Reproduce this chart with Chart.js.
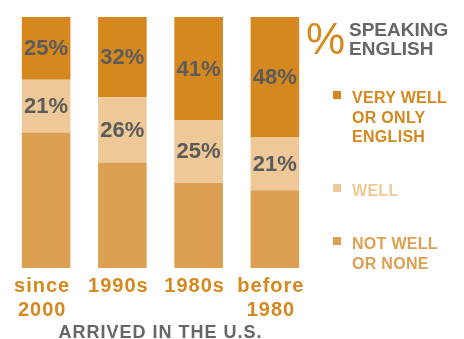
<!DOCTYPE html>
<html><head><meta charset="utf-8">
<script src="https://cdn.jsdelivr.net/npm/chart.js@4/dist/chart.umd.min.js"></script>
<style>
html,body{margin:0;padding:0;background:#fff;}
#wrap{position:relative;width:464px;height:339px;font-family:"Liberation Sans",Arial,sans-serif;overflow:hidden;}
#wrap canvas{position:absolute;left:0;top:0;}
.abs{position:absolute;white-space:nowrap;}
#pct{left:306px;top:17px;font-size:44px;line-height:44px;color:#D4881E;font-weight:normal;}
#ltitle{left:349px;top:19.5px;font-size:19px;line-height:19px;font-weight:bold;color:#666;}
.item{position:absolute;left:333px;}
.sw{position:absolute;left:0;width:8px;height:8px;}
.txt{position:absolute;left:19px;top:0;font-size:16px;line-height:19.5px;font-weight:bold;letter-spacing:0.3px;white-space:nowrap;}
</style></head><body>
<div id="wrap"><canvas id="c" width="464" height="339"></canvas>
<div id="pct" class="abs">%</div>
<div id="ltitle" class="abs">SPEAKING<br>ENGLISH</div>
</div>
<script>
const categories = [["since","2000"], "1990s", "1980s", ["before","1980"]];
const seriesNames = [["NOT WELL","OR NONE"], ["WELL"], ["VERY WELL","OR ONLY","ENGLISH"]];
const notWell  = [54, 42, 34, 31];
const well     = [21, 26, 25, 21];
const veryWell = [25, 32, 41, 48];
const seriesColors = ["#DDA052", "#EEC897", "#D4881E"];
const legendTops = [234, 181, 88];
const FONT = '"Liberation Sans", Arial, sans-serif';

// HTML legend
const wrap = document.getElementById('wrap');
[2,1,0].forEach(i => {
  const d = document.createElement('div');
  d.className = 'item';
  d.style.top = legendTops[i] + 'px';
  const sw = document.createElement('div');
  sw.className = 'sw'; sw.style.background = seriesColors[i]; sw.style.top = '3px';
  const t = document.createElement('div');
  t.className = 'txt'; t.style.color = seriesColors[i];
  t.innerHTML = seriesNames[i].join('<br>');
  d.appendChild(sw); d.appendChild(t);
  wrap.appendChild(d);
});

const spacingPlugin = {
  id: 'spacing',
  beforeDraw(chart) { chart.ctx.letterSpacing = '1px'; }
};
const valueLabels = {
  id: 'valueLabels',
  afterDatasetsDraw(chart) {
    const ctx = chart.ctx;
    ctx.save();
    ctx.letterSpacing = '0px';
    ctx.font = 'bold 22px ' + FONT;
    ctx.fillStyle = '#5B5B5B';
    ctx.textAlign = 'center';
    ctx.textBaseline = 'middle';
    [1, 2].forEach(di => {
      const meta = chart.getDatasetMeta(di);
      const ds = chart.data.datasets[di];
      meta.data.forEach((el, j) => {
        const p = el.getProps(['x', 'y', 'base'], true);
        ctx.fillText(ds.data[j] + '%', p.x, (p.y + p.base) / 2 + 1);
      });
    });
    ctx.restore();
  }
};

new Chart(document.getElementById('c'), {
  type: 'bar',
  data: {
    labels: categories,
    datasets: [
      { label: seriesNames[0].join(' '), data: notWell,  backgroundColor: seriesColors[0] },
      { label: seriesNames[1].join(' '), data: well,     backgroundColor: seriesColors[1] },
      { label: seriesNames[2].join(' '), data: veryWell, backgroundColor: seriesColors[2] }
    ]
  },
  options: {
    responsive: false,
    animation: false,
    events: [],
    datasets: { bar: { barPercentage: 0.637, categoryPercentage: 1, borderWidth: 0 } },
    layout: { padding: { left: 8, right: 151, top: 17, bottom: 0 } },
    plugins: { legend: { display: false }, tooltip: { enabled: false } },
    scales: {
      x: {
        stacked: true,
        grid: { display: false, drawTicks: false },
        border: { display: false },
        ticks: {
          color: '#D4881E',
          font: { family: FONT, size: 20, weight: 'bold', lineHeight: 1.2 },
          padding: 6, labelOffset: -4, maxRotation: 0, autoSkip: false
        },
        title: {
          display: true, text: 'ARRIVED IN THE U.S.', color: '#666666',
          font: { family: FONT, size: 18, weight: 'bold', lineHeight: 1.0 },
          padding: { top: -4, bottom: -3 }
        }
      },
      y: { stacked: true, display: false, min: 0, max: 100 }
    }
  },
  plugins: [spacingPlugin, valueLabels]
});
</script>
</body></html>
